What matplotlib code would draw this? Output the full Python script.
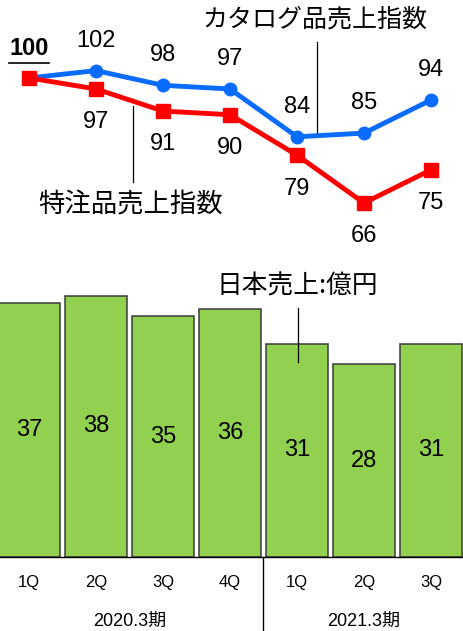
import matplotlib.pyplot as plt

plt.rcParams['font.family'] = ['Liberation Sans', 'Noto Sans CJK JP']

# データ
quarters = ["1Q", "2Q", "3Q", "4Q", "1Q", "2Q", "3Q"]
periods = ["2020.3期", "2021.3期"]
catalog_index = [100, 102, 98, 97, 84, 85, 94]
order_index = [100, 97, 91, 90, 79, 66, 75]
japan_sales = [37, 38, 35, 36, 31, 28, 31]

BLUE = "#0A6CFF"
RED = "#FF0000"
GREEN = "#92D050"
JP = ['Noto Sans CJK JP']

x = list(range(len(quarters)))
xlim = (-0.433, 6.478)

fig = plt.figure(figsize=(4.63, 6.31), dpi=100)

# 上段: 指数の折れ線
ax_line = fig.add_axes([0, 0.588, 1, 0.412])
ax_line.plot(x, catalog_index, color=BLUE, lw=3.5, marker="o", ms=9, zorder=3)
ax_line.plot(x, order_index, color=RED, lw=3.5, marker="s", ms=10, zorder=4)
ax_line.set_xlim(*xlim)
ax_line.set_ylim(50.5, 121.2)
ax_line.axis("off")

for i in range(1, len(x)):
    ax_line.annotate(str(catalog_index[i]), (x[i], catalog_index[i]),
                     xytext=(0, 21.5), textcoords="offset points",
                     ha="center", va="center", fontsize=17)
    ax_line.annotate(str(order_index[i]), (x[i], order_index[i]),
                     xytext=(0, -24), textcoords="offset points",
                     ha="center", va="center", fontsize=17)

# 基準値 100 (太字・下線)
t100 = ax_line.annotate(str(catalog_index[0]), (x[0], catalog_index[0]),
                        xytext=(0, 21.5), textcoords="offset points",
                        ha="center", va="center", fontsize=17, fontweight="bold")
fig.canvas.draw()
bb = t100.get_window_extent().transformed(ax_line.transData.inverted())
ax_line.plot([bb.x0, bb.x1], [bb.y0 - 0.8, bb.y0 - 0.8], color="black", lw=1.2, clip_on=False)

# 系列名の注記
ax_line.plot([1.552, 1.552], [92.4, 71.7], color="black", lw=0.9)
ax_line.text(1.51, 65.5, "特注品売上指数", ha="center", va="center", fontsize=19, family=JP)
ax_line.plot([4.30, 4.30], [109.8, 84.5], color="black", lw=0.9)
ax_line.text(4.27, 115.8, "カタログ品売上指数", ha="center", va="center", fontsize=18, family=JP)

# 下段: 日本売上の棒グラフ
ax_bar = fig.add_axes([0, 0.1173, 1, 0.4707])
bars = ax_bar.bar(x, japan_sales, width=0.92, color=GREEN, edgecolor="#3A3A3A", lw=1.1)
ax_bar.set_xlim(*xlim)
ax_bar.set_ylim(0, 43.2)
for s in ["top", "left", "right"]:
    ax_bar.spines[s].set_visible(False)
ax_bar.spines["bottom"].set_color("black")
ax_bar.spines["bottom"].set_linewidth(1)
ax_bar.set_yticks([])
ax_bar.set_xticks(x)
ax_bar.set_xticklabels(quarters, fontsize=12)
ax_bar.tick_params(axis="x", length=0, pad=13)

for rect, v in zip(bars, japan_sales):
    ax_bar.text(rect.get_x() + rect.get_width() / 2, v / 2, str(v),
                ha="center", va="center", fontsize=17)

# 期の区切りとラベル
ax_bar.plot([3.5, 3.5], [0, -10.8], color="black", lw=1, clip_on=False)
for label, cx in zip(periods, [1.5, 5]):
    ax_bar.annotate(label, (cx, 0), xycoords=("data", "axes fraction"),
                    xytext=(0, -40), textcoords="offset points",
                    ha="center", va="top", fontsize=13)

ax_bar.plot([4.01, 4.01], [36.2, 28.4], color="black", lw=0.9)
ax_bar.text(4.01, 39.3, "日本売上:億円", ha="center", va="center", fontsize=18.5, family=JP)

fig.savefig("out.png", dpi=100)
